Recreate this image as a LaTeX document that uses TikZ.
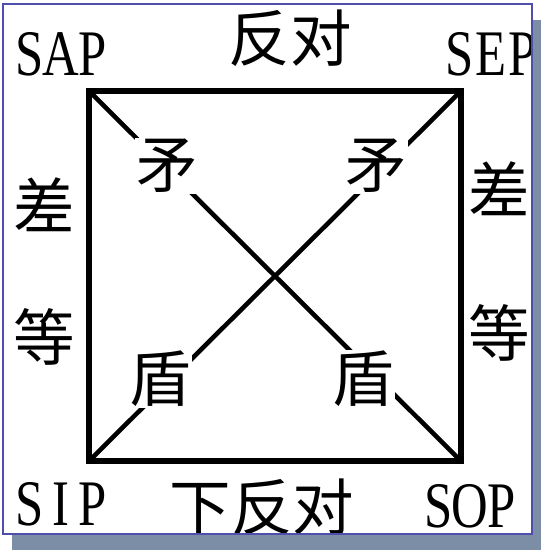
\documentclass[tikz,border=0pt]{standalone}
\usepackage{fontspec}
\setmainfont{Liberation Serif}[FakeStretch=0.78]
\newfontfamily\cjk{Noto Sans CJK SC}
\definecolor{frameblue}{RGB}{78,78,172}
\definecolor{shadowgray}{RGB}{124,142,166}
% half-width cell for each latin letter
\newcommand\hw[1]{\makebox[0.48em]{#1}}
\tikzset{
	% latin corner labels and chinese labels
	corner label/.style={font=\fontsize{37}{40}\selectfont, anchor=base, inner sep=0},
	cjk label/.style={font=\cjk\fontsize{35}{40}\selectfont, inner sep=0.6, fill=white},
	square line/.style={line width=3.2pt, line join=miter},
	cross line/.style={line width=2.6pt}
}
\begin{document}
\begin{tikzpicture}[x=0.02cm, y=-0.02cm]

  \useasboundingbox (0,0) rectangle (544,554);
  %% frame with shadow
  \fill[shadowgray] (12,20) rectangle (541,550);
  \fill[white] (3,4) rectangle (532,534);

  \begin{scope}
  \clip (3,4) rectangle (532,534);

  \coordinate(tl) at (89, 91);
  \coordinate(tr) at (461, 91);
  \coordinate(bl) at (89, 461);
  \coordinate(br) at (461, 461);

  \draw[square line] (tl) -- (tr) -- (br) -- (bl) -- cycle;
  \path[cross line] (tl) edge (br);
  \path[cross line] (tr) edge (bl);

  \node(sap) at (61, 76) [corner label]{\hw{S}\hw{A}\hw{P}};
  \node(sep) at (491, 75) [corner label]{\hw{S}\hw{E}\hw{P}};
  \node(sip) at (61, 525) [corner label]{\hw{S}\hw{I}\hw{P}};
  \node(sop) at (470, 527) [corner label]{\hw{S}\hw{O}\hw{P}};

  \node(fandui) at (290, 38) [cjk label]{反对};
  \node(xiafandui) at (262, 507) [cjk label]{下反对};
  \node(chaL) at (44, 205) [cjk label]{差};
  \node(dengL) at (44, 337) [cjk label]{等};
  \node(chaR) at (499, 189) [cjk label]{差};
  \node(dengR) at (499, 333) [cjk label]{等};

  %% labels sitting on the diagonals
  \node(maoL) at (167, 166) [cjk label]{矛};
  \node(maoR) at (376, 166) [cjk label]{矛};
  \node(dunL) at (160, 379) [cjk label]{盾};
  \node(dunR) at (363, 379) [cjk label]{盾};
  \end{scope}

  \draw[frameblue, line width=0.8pt] (3,4) rectangle (532,534);

\end{tikzpicture}
\end{document}
